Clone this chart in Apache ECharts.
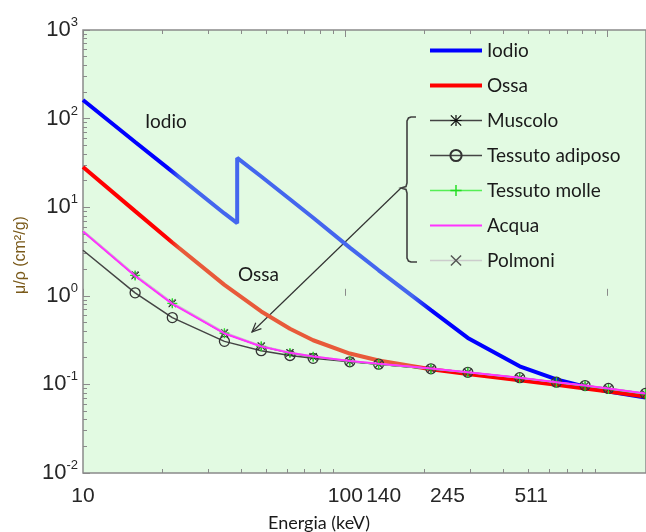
<!DOCTYPE html>
<html><head><meta charset="utf-8">
<script src="https://cdn.jsdelivr.net/npm/echarts@6/dist/echarts.min.js"></script>
<style>html,body{margin:0;padding:0;background:#fff}#c{width:646px;height:532px}</style>
</head><body><div id="c"></div>
<script>
// ---- data (x in keV on the labelled axis, y in cm^2/g) ----
const energia = [10, 15.8, 21.9, 34.6, 47.8, 61.5, 75.4, 104, 134, 212, 293, 462, 638, 820, 1007, 1393];
const iodioEnergia = [10, 15.8, 21.9, 34.6, 38.7, 38.7, 47.8, 61.5, 75.4, 104, 134, 212, 293, 462, 638, 820, 1007, 1393];
const iodio   = [162, 54.5, 25.2, 8.5, 6.6, 36, 22.2, 12.3, 7.6, 3.5, 1.94, 0.69, 0.335, 0.16, 0.114, 0.094, 0.083, 0.071];
const ossa    = [28.5, 9.03, 4.0, 1.33, 0.666, 0.424, 0.315, 0.223, 0.186, 0.148, 0.131, 0.111, 0.099, 0.090, 0.083, 0.073];
const muscolo = [5.36, 1.69, 0.82, 0.378, 0.269, 0.226, 0.205, 0.182, 0.169, 0.149, 0.136, 0.118, 0.105, 0.096, 0.089, 0.078];
const adiposo = [3.27, 1.08, 0.568, 0.306, 0.240, 0.212, 0.197, 0.180, 0.169, 0.150, 0.137, 0.119, 0.106, 0.097, 0.090, 0.079];
const molle   = [5.38, 1.70, 0.822, 0.379, 0.269, 0.226, 0.205, 0.182, 0.169, 0.149, 0.136, 0.118, 0.105, 0.096, 0.089, 0.078];
const acqua   = [5.33, 1.67, 0.81, 0.376, 0.268, 0.227, 0.206, 0.184, 0.171, 0.151, 0.137, 0.119, 0.106, 0.097, 0.090, 0.079];
const polmoni = [5.48, 1.74, 0.843, 0.388, 0.274, 0.230, 0.208, 0.185, 0.171, 0.151, 0.137, 0.119, 0.106, 0.097, 0.090, 0.079];

const xTickLabels = [10, 100, 140, 245, 511];
const xMajorTicks = [10, 100, 1000];
const xMinorTicks = [20, 30, 40, 50, 60, 70, 80, 90, 200, 300, 400, 500, 600, 700, 800, 900];
const yTickExponents = [-2, -1, 0, 1, 2, 3];
const yMinorTicks = [0.02,0.03,0.04,0.05,0.06,0.07,0.08,0.09,0.2,0.3,0.4,0.5,0.6,0.7,0.8,0.9,2,3,4,5,6,7,8,9,20,30,40,50,60,70,80,90,200,300,400,500,600,700,800,900];

// ---- helpers ----
const pts = (xs, ys) => xs.map((x, i) => [x, ys[i]]);
const markPts = (xs, ys) => xs.map((x, i) => i === 0 ? { value: [x, ys[i]], symbol: 'none' } : [x, ys[i]]);
const lg = Math.log10;

const plusPath = 'path://M8.7,0h2.6v20h-2.6zM0,8.7h20v2.6h-20z';
const crossPath = 'path://M0,1.8L1.8,0L20,18.2L18.2,20ZM18.2,0L20,1.8L1.8,20L0,18.2Z';
const starPath = 'path://M8.9,0h2.2v20h-2.2zM0,8.9h20v2.2h-20zM0,1.6L1.6,0L20,18.4L18.4,20ZM18.4,0L20,1.6L1.6,20L0,18.4Z';

function grad(base, mid) {
  return { type: 'linear', x: 0, y: 0, x2: 1, y2: 0, colorStops: [
    { offset: 0, color: base }, { offset: 0.155, color: base },
    { offset: 0.175, color: mid }, { offset: 0.585, color: mid },
    { offset: 0.62, color: base }, { offset: 1, color: base } ] };
}

const axisGray = '#8a8a8a';
const tickFont = 'Liberation Sans';
const textFont = 'Lato';

const G = { left: 83, top: 30, width: 564, height: 443 };

const xLabelFmt = v => String(Math.round(Math.pow(10, v)));

const chart = echarts.init(document.getElementById('c'), null, { renderer: 'canvas' });

// annotation: arrow from brace tip to the tissue curves
const a0 = [401, 188], a1 = [252, 332];
const adx = a1[0] - a0[0], ady = a1[1] - a0[1], alen = Math.hypot(adx, ady);
const ux = adx / alen, uy = ady / alen;
const hl = 10, ang = 24 * Math.PI / 180;
const h1 = [a1[0] - hl * (ux * Math.cos(ang) - uy * Math.sin(ang)), a1[1] - hl * (ux * Math.sin(ang) + uy * Math.cos(ang))];
const h2 = [a1[0] - hl * (ux * Math.cos(-ang) - uy * Math.sin(-ang)), a1[1] - hl * (ux * Math.sin(-ang) + uy * Math.cos(-ang))];
const bracePts = [[416,117],[411,117],[408.5,118],[407,121],[407,183],[406,186.5],[401,188],[406,189.5],[407,193],[407,258],[408.5,261],[411,262],[417,262]];

const noSym = { opacity: 0 };

const option = {
  animation: false,
  backgroundColor: '#ffffff',
  grid: { left: G.left, top: G.top, width: G.width, height: G.height, show: true,
          backgroundColor: '#e2fae2', borderColor: axisGray, borderWidth: 1.5 },
  legend: {
    data: [
      { name: 'Iodio', lineStyle: { color: '#0000ff' }, itemStyle: noSym },
      { name: 'Ossa', lineStyle: { color: '#ff0000' }, itemStyle: noSym },
      'Muscolo', 'Tessuto adiposo', 'Tessuto molle',
      { name: 'Acqua', itemStyle: noSym },
      'Polmoni'
    ],
    orient: 'vertical', left: 428, top: 41, padding: 0,
    itemWidth: 52, itemHeight: 14, itemGap: 16,
    lineStyle: { width: 'inherit' },
    textStyle: { fontFamily: textFont, fontSize: 19, color: '#1a1a1a' },
    selectedMode: false
  },
  xAxis: [
    { type: 'log', logBase: 10, min: 10, max: 1400, position: 'bottom',
      axisLine: { show: false }, axisTick: { show: false }, axisLabel: { show: false },
      splitLine: { show: false }, minorTick: { show: false } },
    { type: 'value', min: 1, max: lg(1400), position: 'bottom',
      axisLine: { show: false }, splitLine: { show: false },
      axisTick: { show: true, inside: true, length: 7, customValues: xMajorTicks.map(lg), lineStyle: { color: axisGray, width: 1 } },
      axisLabel: { show: true, customValues: xTickLabels.map(lg), formatter: xLabelFmt,
                   fontFamily: tickFont, fontSize: 21, color: '#262626', margin: 13 } },
    { type: 'value', min: 1, max: lg(1400), position: 'bottom',
      axisLine: { show: false }, splitLine: { show: false }, axisLabel: { show: false },
      axisTick: { show: true, inside: true, length: 4, customValues: xMinorTicks.map(lg), lineStyle: { color: axisGray, width: 1 } } },
    { type: 'value', min: 1, max: lg(1400), position: 'top',
      axisLine: { show: false }, splitLine: { show: false }, axisLabel: { show: false },
      axisTick: { show: true, inside: true, length: 7, customValues: xMajorTicks.map(lg), lineStyle: { color: axisGray, width: 1 } } },
    { type: 'value', min: 1, max: lg(1400), position: 'top',
      axisLine: { show: false }, splitLine: { show: false }, axisLabel: { show: false },
      axisTick: { show: true, inside: true, length: 4, customValues: xMinorTicks.map(lg), lineStyle: { color: axisGray, width: 1 } } }
  ],
  yAxis: [
    { type: 'log', logBase: 10, min: 0.01, max: 1000, position: 'left',
      axisLine: { show: false }, axisTick: { show: false }, axisLabel: { show: false },
      splitLine: { show: false }, minorTick: { show: false } },
    { type: 'value', min: -2, max: 3, position: 'left',
      axisLine: { show: false }, splitLine: { show: false },
      axisTick: { show: true, inside: true, length: 7, customValues: yTickExponents, lineStyle: { color: axisGray, width: 1 } },
      axisLabel: { show: true, customValues: yTickExponents, margin: 5,
        formatter: v => '{b|10}{s|' + v + '}',
        rich: {
          b: { fontFamily: tickFont, fontSize: 22, color: '#262626' },
          s: { fontFamily: tickFont, fontSize: 13, color: '#262626', padding: [0, 0, 15, 0] }
        } } },
    { type: 'value', min: -2, max: 3, position: 'left',
      axisLine: { show: false }, splitLine: { show: false }, axisLabel: { show: false },
      axisTick: { show: true, inside: true, length: 4, customValues: yMinorTicks.map(lg), lineStyle: { color: axisGray, width: 1 } } }
  ],
  series: [
    { name: 'Iodio', type: 'line', data: pts(iodioEnergia, iodio), symbol: 'none', showSymbol: false,
      itemStyle: { color: '#0000ff' }, lineStyle: { width: 4, color: grad('#0000ff', '#4466ee') }, z: 2 },
    { name: 'Ossa', type: 'line', data: pts(energia, ossa), symbol: 'none', showSymbol: false,
      itemStyle: { color: '#ff0000' }, lineStyle: { width: 4, color: grad('#ff0000', '#e85a3a') }, z: 3 },
    { name: 'Muscolo', type: 'line', data: markPts(energia, muscolo), symbol: starPath, symbolSize: 8,
      itemStyle: { color: '#111111' }, lineStyle: { width: 1.5, color: '#444444' }, z: 4 },
    { name: 'Tessuto adiposo', type: 'line', data: markPts(energia, adiposo), symbol: 'circle', symbolSize: 10,
      itemStyle: { color: 'rgba(0,0,0,0)', borderColor: '#333333', borderWidth: 1.3 },
      lineStyle: { width: 1.5, color: '#444444' }, z: 4 },
    { name: 'Tessuto molle', type: 'line', data: markPts(energia, molle), symbol: plusPath, symbolSize: 10,
      itemStyle: { color: '#22dd22' }, lineStyle: { width: 1.5, color: '#55ee55' }, z: 5 },
    { name: 'Polmoni', type: 'line', data: markPts(energia, polmoni), symbol: crossPath, symbolSize: 7,
      itemStyle: { color: '#555555' }, lineStyle: { width: 1.5, color: '#cccccc' }, z: 5 },
    { name: 'Acqua', type: 'line', data: pts(energia, acqua), symbol: 'none', showSymbol: false,
      itemStyle: { color: '#ff33ff' }, lineStyle: { width: 2, color: '#ff33ff' }, z: 6 }
  ],
  graphic: [
    { type: 'text', x: 145, y: 112, silent: true,
      style: { text: 'Iodio', font: '19px Lato', fill: '#1a1a1a' } },
    { type: 'text', x: 238, y: 265, silent: true,
      style: { text: 'Ossa', font: '19px Lato', fill: '#1a1a1a' } },
    { type: 'text', x: 268, y: 514, silent: true,
      style: { text: 'Energia (keV)', font: '18px Lato', fill: '#1a1a1a' } },
    { type: 'text', x: 13, y: 294, rotation: Math.PI / 2, silent: true,
      style: { text: 'μ/ρ (cm²/g)', font: '16px "Liberation Sans"', fill: '#7a5a1a' } },
    { type: 'polyline', silent: true, shape: { points: bracePts }, style: { stroke: '#404040', lineWidth: 1.6, fill: null } },
    { type: 'polyline', silent: true, shape: { points: [a0, a1] }, style: { stroke: '#333333', lineWidth: 1.2, fill: null } },
    { type: 'polyline', silent: true, shape: { points: [h1, a1, h2] }, style: { stroke: '#333333', lineWidth: 1.2, fill: null } }
  ]
};
chart.setOption(option);
</script>
</body></html>
